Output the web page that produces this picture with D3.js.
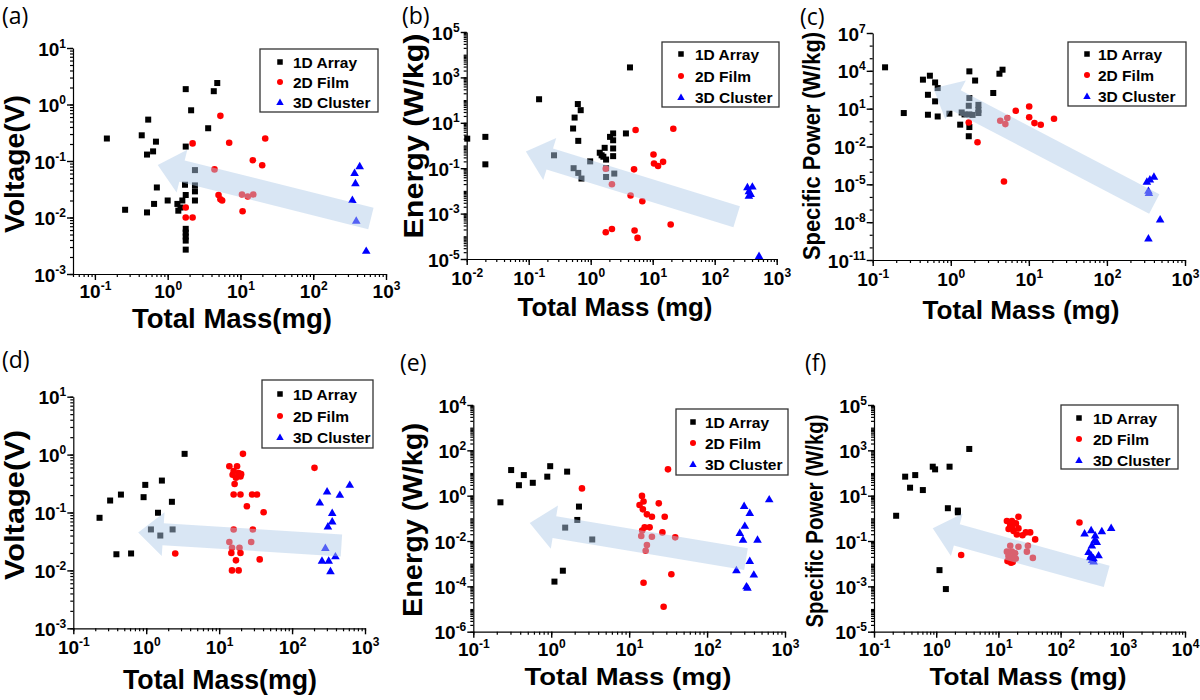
<!DOCTYPE html>
<html><head><meta charset="utf-8">
<script src="https://cdn.jsdelivr.net/npm/d3@7"></script>
<style>body{margin:0;background:#fff}svg{display:block}</style>
</head><body>
<svg id="chart" width="1200" height="700"></svg>
<script>
// ---------------- DATA (Total Mass [mg], value) ----------------
const seriesNames = ["1D Array", "2D Film", "3D Cluster"];
const panelLetters = ["(a)", "(b)", "(c)", "(d)", "(e)", "(f)"];
const yTitles = ["Voltage(V)", "Energy (W/kg)", "Specific Power (W/kg)", "Voltage(V)", "Energy (W/kg)", "Specific Power (W/kg)"];
const xTitles = ["Total Mass(mg)", "Total Mass (mg)", "Total Mass (mg)", "Total Mass(mg)", "Total Mass (mg)", "Total Mass (mg)"];

// (a) Voltage
const a1D = [[0.146,0.25],[0.26,0.0137],[0.44,0.285],[0.54,0.54],[0.52,0.13],[0.63,0.148],[0.69,0.22],[0.71,0.034],[0.65,0.0174],[0.52,0.0123],[1.0,0.02],[1.36,0.0174],[1.4,0.0132],[1.5,0.015],[1.59,0.02],[1.77,0.025],[1.77,1.87],[1.77,0.18],[1.73,0.038],[2.1,0.79],[2.37,0.069],[2.37,0.037],[2.37,0.029],[2.37,0.02],[3.6,0.38],[4.3,1.72],[4.8,2.4],[1.77,0.0063],[1.77,0.0054],[1.77,0.0046],[1.77,0.0039],[1.77,0.0027]];
const a2D = [[2.2,0.205],[5.3,0.63],[4.4,0.071],[1.77,0.015],[1.77,0.01],[2.2,0.01],[5.0,0.025],[5.3,0.021],[5.6,0.02],[7.0,0.21],[10.7,0.0129],[10.5,0.0256],[12.6,0.0235],[15,0.0256],[14.8,0.103],[19.9,0.084],[21.9,0.25]];
const a3D = [[435,0.082],[370,0.062],[380,0.041],[345,0.0206],[390,0.0089],[535,0.0026]];
// (b) Energy
const b1D = [[0.0102,2.0],[0.02,2.4],[0.02,0.148],[0.147,109],[4.3,2750],[0.62,67],[0.69,36],[0.55,17],[0.52,5.6],[0.63,1.6],[0.256,0.37],[0.53,0.10],[0.63,0.062],[0.71,0.035],[0.98,0.20],[1.4,0.48],[1.5,0.37],[1.68,0.79],[1.6,0.32],[1.77,0.24],[1.77,0.10],[1.77,0.041],[2.05,2.4],[2.3,3.4],[2.3,1.7],[2.3,0.74],[2.3,0.34],[2.4,0.058],[3.7,3.4]];
const b2D = [[5.3,4.8],[21.5,5.5],[10.3,0.40],[10.5,0.16],[12.2,0.125],[14.7,0.19],[5.0,0.089],[1.75,0.095],[2.2,0.0195],[4.4,0.0063],[6.8,0.0035],[19.5,0.00033],[1.75,0.00015],[2.2,0.00021],[5.1,0.00018],[5.7,0.000085]];
const b3D = [[337,0.0148],[405,0.0159],[356,0.0099],[380,0.0076],[356,0.0063],[519,0.000014]];
// (c) Specific power
const c1D = [[0.144,19000],[0.25,4.5],[0.44,2000],[0.54,4100],[0.63,1200],[0.51,126],[0.63,38],[0.68,430],[0.51,3.3],[0.68,2.4],[0.96,4],[1.32,0.54],[1.73,9100],[2.05,1700],[1.73,0.35],[1.7,0.065],[3.5,175],[4.2,5900],[4.6,12300],[1.73,69],[1.7,17],[1.38,5],[1.5,3.5],[1.73,3.5],[1.9,3.2],[2.26,20],[2.26,8],[2.26,4.5]];
const c2D = [[1.7,0.81],[2.2,0.022],[4.3,1.1],[5.0,0.6],[5.3,1.8],[6.8,6.9],[10.1,15],[10.1,2.1],[11.8,0.72],[14.2,0.53],[21,1.6],[4.8,0.000017]];
const c3D = [[325,0.000017],[355,0.000026],[400,0.000042],[340,3.2e-6],[345,2.2e-6],[480,1.7e-8],[340,5.4e-10]];
// (d) Voltage
const d1D = [[0.229,0.081],[0.32,0.161],[0.39,0.019],[0.45,0.204],[0.62,0.0196],[0.92,0.184],[0.97,0.30],[1.64,0.356],[1.45,0.099],[2.25,0.153],[3.36,1.03],[1.16,0.051],[1.56,0.040],[2.3,0.051]];
const d2D = [[21.2,1.03],[13.8,0.63],[17.6,0.63],[15.8,0.52],[15.3,0.45],[18.5,0.48],[20,0.46],[17,0.40],[19.6,0.42],[16.3,0.31],[15.8,0.204],[19.6,0.204],[28.3,0.204],[33,0.204],[24,0.128],[40.7,0.101],[15.8,0.051],[29,0.051],[13.8,0.031],[27.5,0.031],[15,0.0246],[19,0.0246],[14.7,0.020],[19.6,0.020],[17,0.0149],[36,0.0155],[15,0.010],[18.5,0.010],[2.5,0.0196],[203,0.59]];
const d3D = [[240,0.15],[302,0.234],[452,0.204],[618,0.304],[355,0.099],[310,0.058],[355,0.071],[286,0.0246],[393,0.0177],[257,0.0149],[318,0.0149],[336,0.0098]];
// (e) Energy
const e1D = [[0.223,0.51],[0.306,13.5],[0.385,2.9],[0.445,8.1],[0.58,3.7],[0.89,6.9],[0.97,20],[1.6,11.5],[2.27,0.33],[2.16,0.085],[1.51,0.039],[3.36,0.0117],[1.41,0.00049],[1.1,0.000162]];
const e2D = [[14.6,0.98],[15.3,0.55],[13.6,0.39],[15,0.25],[24,0.46],[16.9,0.15],[19.6,0.118],[28.6,0.118],[15.8,0.04],[18.3,0.04],[14.7,0.029],[26.7,0.024],[14.3,0.0166],[19.6,0.0155],[39,0.0145],[16.9,0.0066],[16.3,0.0037],[34.8,0.00034],[15.3,0.000145],[27.7,0.0000126],[2.48,2.1],[31.5,14.5]];
const e3D = [[627,0.71],[299,0.36],[353,0.178],[305,0.048],[263,0.0234],[289,0.0118],[444,0.0118],[353,0.00135],[238,0.00053],[398,0.00034],[320,0.000103],[330,0.00009]];
// (f) Specific power
const f1D = [[0.227,1.3],[0.317,69],[0.46,81],[0.38,22.5],[0.61,17.7],[0.88,190],[0.96,145],[1.64,190],[3.4,1150],[1.54,2.8],[2.23,2.2],[2.23,1.85],[1.13,0.0052],[1.43,0.00076]];
const f2D = [[21,1.18],[13.7,0.76],[16.5,0.76],[19.1,0.6],[15.5,0.51],[16.5,0.39],[14.6,0.34],[21,0.36],[17.5,0.28],[19.8,0.195],[24.4,0.18],[27.6,0.24],[32.4,0.24],[39,0.118],[201,0.66],[15.5,0.062],[21,0.056],[29.8,0.062],[28.7,0.034],[13.7,0.034],[16.5,0.034],[18.6,0.029],[14.5,0.022],[17.5,0.019],[15,0.016],[14,0.013],[17,0.012],[19,0.017],[16,0.011],[35.8,0.018],[2.52,0.024]];
const f3D = [[650,0.39],[460,0.28],[310,0.31],[243,0.22],[360,0.18],[352,0.11],[318,0.066],[382,0.093],[282,0.034],[310,0.024],[408,0.024],[338,0.018],[300,0.02],[320,0.015],[340,0.013]];

// trend arrows: [tip, tail] in data coordinates
const arrowA = [[0.73,0.085],[620,0.0096]];
const arrowB = [[0.09,0.54],[226,0.00073]];
const arrowC = [[0.6,407],[404,2.7e-7]];
const arrowD = [[0.776,0.045],[475,0.027]];
const arrowE = [[0.53,0.062],[316,0.0016]];
const arrowF = [[0.88,0.37],[551,0.00275]];

// tick exponents (labels)
const xTickExpA = [-1,0,1,2,3], yTickExpA = [1,0,-1,-2,-3];
const xTickExpB = [-2,-1,0,1,2,3], yTickExpB = [5,3,1,-1,-3,-5];
const xTickExpC = [-1,0,1,2,3], yTickExpC = [7,4,1,-2,-5,-8,-11];
const xTickExpD = [-1,0,1,2,3], yTickExpD = [1,0,-1,-2,-3];
const xTickExpE = [-1,0,1,2,3], yTickExpE = [4,2,0,-2,-4,-6];
const xTickExpF = [-1,0,1,2,3,4], yTickExpF = [5,3,1,-1,-3,-5];

// ---------------- LAYOUT ----------------
const layouts = [
 {s:[a1D,a2D,a3D], ar:arrowA, xe:xTickExpA, ye:yTickExpA, xd:[0.05,1000], yd:[1e-3,10], x0:73, x1:386, yT:48, yB:274,
  lg:[260,49,378,112], lgMx:280, lgTx:293, lgY:[62,82,102], yt:[15,164,138,27], xt:[232,328,200,27], xl:24, lab:[2,24]},
 {s:[b1D,b2D,b3D], ar:arrowB, xe:xTickExpB, ye:yTickExpB, xd:[0.01,1000], yd:[1e-5,1e5], x0:466.7, x1:776.7, yT:32, yB:259,
  lg:[662,42,779,107], lgMx:681, lgTx:695, lgY:[54,76,97], yt:[414,136,205,27], xt:[615,316,195,25], xl:26, lab:[402,24]},
 {s:[c1D,c2D,c3D], ar:arrowC, xe:xTickExpC, ye:yTickExpC, xd:[0.1,1000], yd:[1e-11,1e7], x0:872.7, x1:1185, yT:33, yB:260,
  lg:[1068,42,1186,106], lgMx:1087, lgTx:1098, lgY:[54,75,96], yt:[812,146,228,23], xt:[1021,319,197,25], xl:26, lab:[800,25]},
 {s:[d1D,d2D,d3D], ar:arrowD, xe:xTickExpD, ye:yTickExpD, xd:[0.1,1000], yd:[1e-3,10], x0:73.3, x1:365, yT:396.7, yB:628.3,
  lg:[262,380,373,448], lgMx:280, lgTx:293, lgY:[394,416,437], yt:[15,505,150,27], xt:[220,689,194,28], xl:26, lab:[2,368]},
 {s:[e1D,e2D,e3D], ar:arrowE, xe:xTickExpE, ye:yTickExpE, xd:[0.1,1000], yd:[1e-6,1e4], x0:473.3, x1:785, yT:405, yB:631.7,
  lg:[676,409,788,475], lgMx:693, lgTx:705, lgY:[422,443,464], yt:[413,520,194,27], xt:[628,685,207,24], xl:24, lab:[400,371]},
 {s:[f1D,f2D,f3D], ar:arrowF, xe:xTickExpF, ye:yTickExpF, xd:[0.1,1e4], yd:[1e-5,1e5], x0:874, x1:1185, yT:405, yB:631.7,
  lg:[1061,405,1178,469], lgMx:1079, lgTx:1093, lgY:[418,439,460], yt:[815,521,213,23], xt:[1028,685,197,23], xl:24, lab:[805,371]}
];
const colors = ["#000000", "#ff0000", "#0000ff"];
const FONT = "'Liberation Sans', Arial, sans-serif";

const svg = d3.select("#chart");
svg.append("rect").attr("width",1200).attr("height",700).attr("fill","#fff");

function marker(sel, type, cx, cy, big){
  if(type===0){ const s = big?6:5.5; sel.append("rect").attr("x",cx-s/2).attr("y",cy-s/2).attr("width",s).attr("height",s).attr("fill",colors[0]); }
  else if(type===1){ sel.append("circle").attr("cx",cx).attr("cy",cy).attr("r",big?3.3:3).attr("fill",colors[1]); }
  else { sel.append("path").attr("d", d3.symbol(d3.symbolTriangle).size(big?32:24)()).attr("transform",`translate(${cx},${cy+0.8})`).attr("fill",colors[2]); }
}

function supLabel(textSel, exp){
  textSel.append("tspan").text("10");
  textSel.append("tspan").attr("font-size",12).attr("dy",-8).text(exp);
}

function minorTicks(domain, dense){
  const lo = Math.round(Math.log10(domain[0])*1000)/1000, hi = Math.log10(domain[1]);
  const out = [];
  for(let e=Math.floor(lo); e<=Math.ceil(hi); e++){
    const mults = dense ? [1,2,3,4,5,6,7,8,9] : [1];
    for(const m of mults){ const v = m*Math.pow(10,e); if(v>=domain[0]*0.999 && v<=domain[1]*1.001) out.push(v); }
  }
  return out;
}

layouts.forEach((L,pi)=>{
  const g = svg.append("g");
  const x = d3.scaleLog().domain(L.xd).range([L.x0,L.x1]);
  const y = d3.scaleLog().domain(L.yd).range([L.yB,L.yT]);

  // minor ticks
  const xMinor = minorTicks(L.xd, true);
  const yMinor = minorTicks(L.yd, pi!==2);
  g.append("g").attr("transform",`translate(0,${L.yB})`)
    .call(d3.axisBottom(x).tickValues(xMinor).tickSize(3).tickSizeOuter(0).tickFormat(()=>""))
    .call(s=>s.selectAll("line,path").attr("stroke","#000").attr("stroke-width",1.2));
  g.append("g").attr("transform",`translate(${L.x0},0)`)
    .call(d3.axisLeft(y).tickValues(yMinor).tickSize(3).tickSizeOuter(0).tickFormat(()=>""))
    .call(s=>s.selectAll("line,path").attr("stroke","#000").attr("stroke-width",1.2));

  // major ticks + labels
  const xMaj = L.xe.map(e=>Math.pow(10,e));
  const yMaj = L.ye.map(e=>Math.pow(10,e));
  const xa = g.append("g").attr("transform",`translate(0,${L.yB})`)
    .call(d3.axisBottom(x).tickValues(xMaj).tickSize(6).tickSizeOuter(0).tickFormat(()=>""));
  xa.select(".domain").remove();
  xa.selectAll("line").attr("stroke","#000").attr("stroke-width",1.4);
  xa.selectAll(".tick").each(function(d){
    const t = d3.select(this).select("text").attr("y",null).attr("dy",null)
      .attr("y",L.xl).attr("fill","#000").attr("font-family",FONT).attr("font-size",19).attr("font-weight","bold").attr("text-anchor","middle");
    supLabel(t, String(Math.round(Math.log10(d))));
  });
  const ya = g.append("g").attr("transform",`translate(${L.x0},0)`)
    .call(d3.axisLeft(y).tickValues(yMaj).tickSize(6).tickSizeOuter(0).tickFormat(()=>""));
  ya.select(".domain").remove();
  ya.selectAll("line").attr("stroke","#000").attr("stroke-width",1.4);
  ya.selectAll(".tick").each(function(d){
    const t = d3.select(this).select("text").attr("x",-7).attr("dy",null).attr("y",7)
      .attr("fill","#000").attr("font-family",FONT).attr("font-size",19).attr("font-weight","bold").attr("text-anchor","end");
    supLabel(t, String(Math.round(Math.log10(d))));
  });

  // data points
  const pts = g.append("g");
  L.s.forEach((ser,si)=>{
    ser.forEach(p=>{ marker(pts, si, x(p[0]), y(p[1]), true); });
  });

  // trend arrow (drawn over the points, semi-transparent)
  const T = [x(L.ar[0][0]), y(L.ar[0][1])], C = [x(L.ar[1][0]), y(L.ar[1][1])];
  const len = Math.hypot(C[0]-T[0], C[1]-T[1]);
  const u = [(C[0]-T[0])/len, (C[1]-T[1])/len], n = [-u[1], u[0]];
  const hl = 25, hw = 22, sw = 11;
  const P = (base, a, b)=>[base[0]+u[0]*a+n[0]*b, base[1]+u[1]*a+n[1]*b];
  const poly = [T, P(T,hl,hw), P(T,hl,sw), P(C,0,sw), P(C,0,-sw), P(T,hl,-sw), P(T,hl,-hw)];
  g.append("path").attr("d", d3.line()(poly)+"Z").attr("fill","#b0cbe7").attr("fill-opacity",0.48);

  // legend
  const [lx0,ly0,lx1,ly1] = L.lg;
  g.append("rect").attr("x",lx0).attr("y",ly0).attr("width",lx1-lx0).attr("height",ly1-ly0)
    .attr("fill","#fff").attr("stroke","#333").attr("stroke-width",1.3);
  seriesNames.forEach((nm,si)=>{
    marker(g, si, L.lgMx, L.lgY[si], false);
    g.append("text").attr("x",L.lgTx).attr("y",L.lgY[si]+5.5).attr("font-family",FONT).attr("font-size",15.5)
      .attr("font-weight","bold").attr("fill","#000").text(nm);
  });

  // titles
  const [ycx,ycy,ylen,yfs] = L.yt;
  g.append("text").attr("transform",`translate(${ycx},${ycy}) rotate(-90)`).attr("text-anchor","middle")
    .attr("dominant-baseline","central").attr("font-family",FONT).attr("font-weight","bold").attr("font-size",yfs)
    .attr("textLength",ylen).attr("lengthAdjust","spacingAndGlyphs").attr("fill","#000").text(yTitles[pi]);
  const [xcx,xby,xlen,xfs] = L.xt;
  g.append("text").attr("x",xcx).attr("y",xby).attr("text-anchor","middle")
    .attr("font-family",FONT).attr("font-weight","bold").attr("font-size",xfs)
    .attr("textLength",xlen).attr("lengthAdjust","spacingAndGlyphs").attr("fill","#000").text(xTitles[pi]);
  g.append("text").attr("x",L.lab[0]).attr("y",L.lab[1]).attr("font-family","'Open Sans', 'Noto Sans', sans-serif")
    .attr("font-size",23).attr("fill","#000").text(panelLetters[pi]);
});
</script>
</body></html>
